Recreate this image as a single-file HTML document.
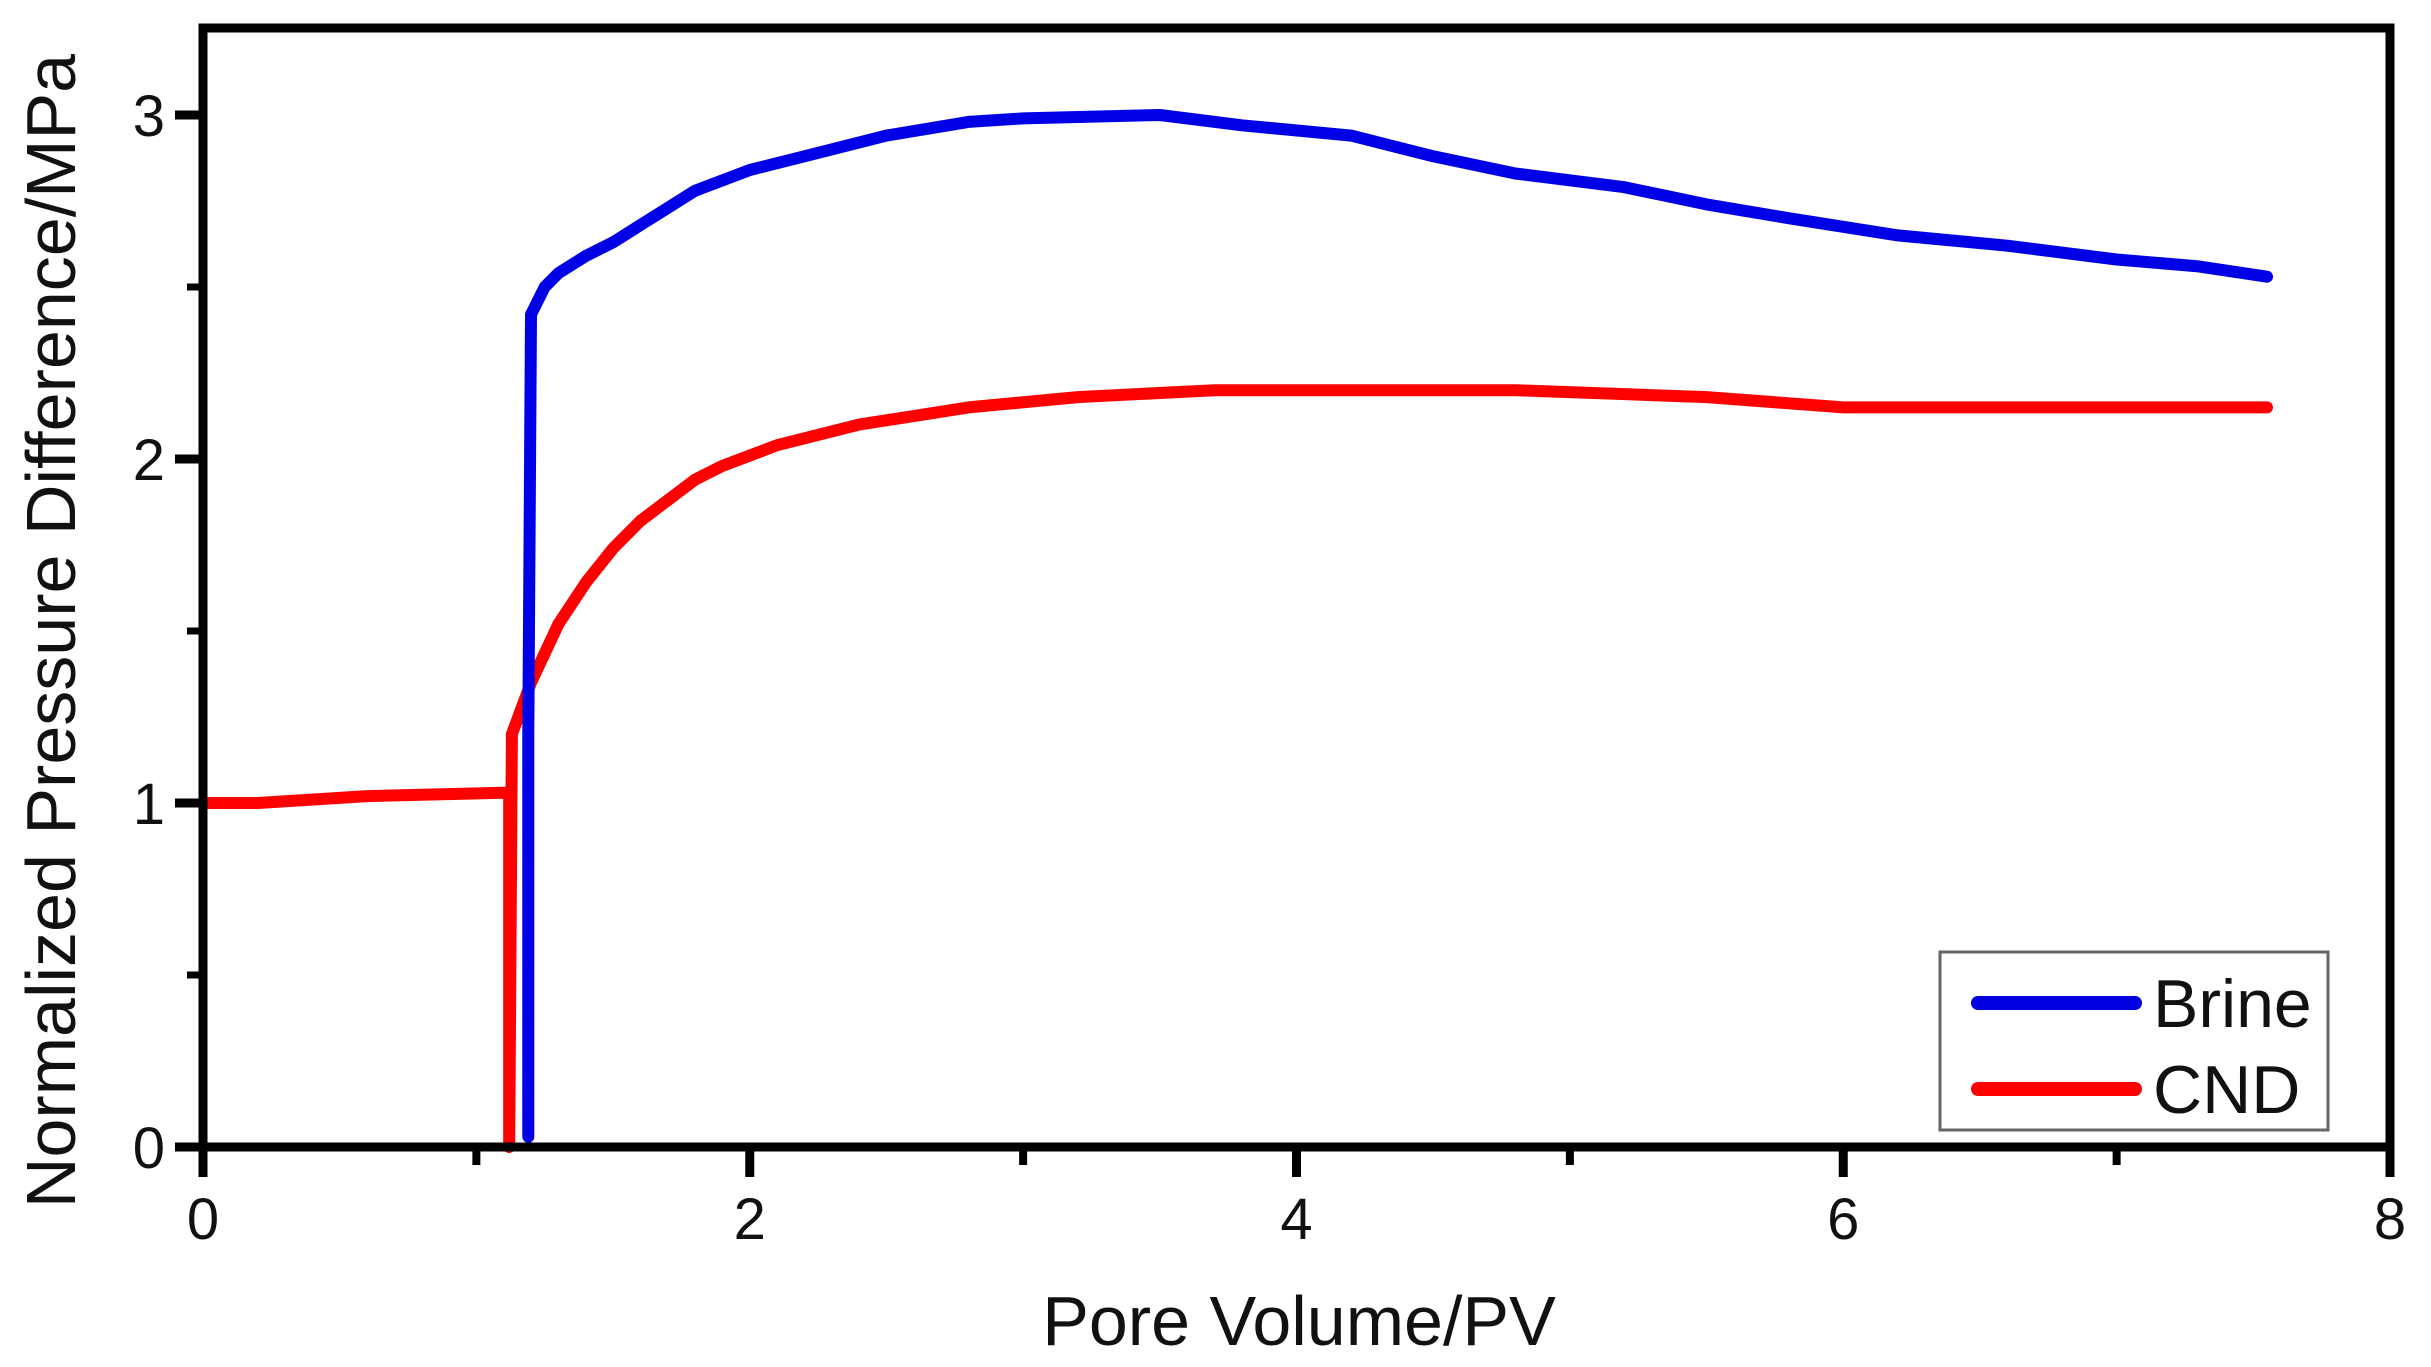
<!DOCTYPE html>
<html><head><meta charset="utf-8"><style>
html,body{margin:0;padding:0;background:#fff;}
svg{display:block;font-family:"Liberation Sans",Arial,sans-serif;}
</style></head><body>
<svg id="chart" width="2431" height="1367" viewBox="0 0 2431 1367">
<rect x="0" y="0" width="2431" height="1367" fill="#fff"/>
<g id="plot"></g>
<g id="axes"></g>
<g>
<rect x="1940" y="952" width="388" height="178" fill="#fff" stroke="#666" stroke-width="3"/>
<line x1="1978" y1="1003" x2="2135" y2="1003" stroke="#0000e0" stroke-width="14" stroke-linecap="round"/>
<text x="2153" y="1027" font-size="68" fill="#111">Brine</text>
<line x1="1978" y1="1089" x2="2135" y2="1089" stroke="#ff0000" stroke-width="14" stroke-linecap="round"/>
<text x="2153" y="1113" font-size="68" fill="#111">CND</text>
</g>
<text x="1299" y="1345" font-size="70" text-anchor="middle" fill="#111">Pore Volume/PV</text>
<text transform="translate(75,631) rotate(-90)" font-size="70" text-anchor="middle" fill="#111">Normalized Pressure Difference/MPa</text>
</svg>
<script>
const xTicks=[0,2,4,6,8];
const yTicks=[0,1,2,3];
const xMinor=[1,3,5,7];
const yMinor=[0.5,1.5,2.5];
const brineX=[1.19,1.19,1.2,1.25,1.3,1.4,1.5,1.6,1.7,1.8,1.9,2.0,2.2,2.5,2.8,3.0,3.5,3.8,4.2,4.5,4.8,5.2,5.5,5.8,6.2,6.6,7.0,7.3,7.55];
const brineY=[0.03,1.2,2.42,2.5,2.54,2.59,2.63,2.68,2.73,2.78,2.81,2.84,2.88,2.94,2.98,2.99,3.0,2.97,2.94,2.88,2.83,2.79,2.74,2.7,2.65,2.62,2.58,2.56,2.53];
const cndX=[0,0.2,0.6,1.1,1.12,1.12,1.13,1.2,1.3,1.4,1.5,1.6,1.7,1.8,1.9,2.1,2.4,2.8,3.2,3.7,4.8,5.5,6.0,7.55];
const cndY=[1.0,1.0,1.02,1.03,1.03,0,1.2,1.35,1.52,1.64,1.74,1.82,1.88,1.94,1.98,2.04,2.1,2.15,2.18,2.2,2.2,2.18,2.15,2.15];

const X0=203,X1=2390,Y0=1147,Y3=115;
const sx=v=>X0+(X1-X0)*v/8;
const sy=v=>Y0-(Y0-Y3)*v/3;
const NS="http://www.w3.org/2000/svg";
const plot=document.getElementById('plot');
const axes=document.getElementById('axes');
function mk(t,a,p){const e=document.createElementNS(NS,t);for(const k in a)e.setAttribute(k,a[k]);p.appendChild(e);return e;}

function series(xs,ys,color,name){
  let d='';xs.forEach((x,i)=>{d+=(i?'L':'M')+sx(x).toFixed(1)+' '+sy(ys[i]).toFixed(1);});
  const p=mk('path',{d:d,fill:'none',stroke:color,'stroke-width':12,'stroke-linejoin':'round','stroke-linecap':'round'},plot);
  
  
}
series(cndX,cndY,'#ff0000','cnd-line');
series(brineX,brineY,'#0000e6','brine-line');

const frame=mk('path',{d:`M${X0} 28 H${X1} V${Y0} H${X0} Z`,fill:'none',stroke:'#000','stroke-width':9},axes);


xTicks.forEach(v=>{
  const l=mk('line',{x1:sx(v),y1:Y0,x2:sx(v),y2:Y0+30,stroke:'#000','stroke-width':9},axes);
  
  
  const t=mk('text',{x:sx(v),y:Y0+92,'font-size':58,'text-anchor':'middle',fill:'#111'},axes);
  t.textContent=v;
  
  
});
xMinor.forEach(v=>{
  const l=mk('line',{x1:sx(v),y1:Y0,x2:sx(v),y2:Y0+18,stroke:'#000','stroke-width':8},axes);
  
  
});
yTicks.forEach(v=>{
  const l=mk('line',{x1:X0-28,y1:sy(v),x2:X0,y2:sy(v),stroke:'#000','stroke-width':9},axes);
  
  
  const t=mk('text',{x:X0-38,y:sy(v)+21,'font-size':58,'text-anchor':'end',fill:'#111'},axes);
  t.textContent=v;
  
  
});
yMinor.forEach(v=>{
  const l=mk('line',{x1:X0-16,y1:sy(v),x2:X0,y2:sy(v),stroke:'#000','stroke-width':7},axes);
  
  
});
</script>
</body></html>
